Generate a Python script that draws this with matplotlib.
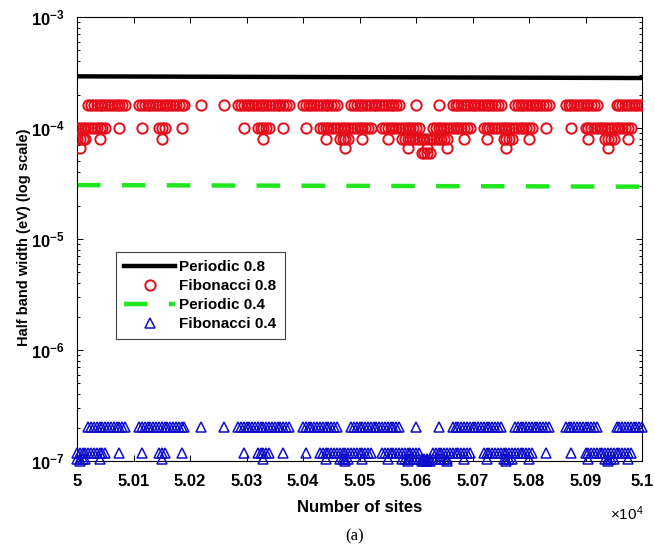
import numpy as np
import matplotlib
matplotlib.use("Agg")
import matplotlib.pyplot as plt
from matplotlib.ticker import FixedLocator, LogLocator, NullFormatter

plt.rcParams['font.family'] = ['Liberation Sans', 'DejaVu Sans']
plt.rcParams['mathtext.fontset'] = 'custom'
plt.rcParams['mathtext.rm'] = 'Liberation Sans'
plt.rcParams['mathtext.bf'] = 'Liberation Sans:bold'
plt.rcParams['mathtext.it'] = 'Liberation Sans:italic'

# ---------------- data ----------------
x_start = 50000
x_end = 51000
x_ticks = [50000, 50100, 50200, 50300, 50400, 50500, 50600, 50700, 50800, 50900, 51000]
x_tick_labels = ['5', '5.01', '5.02', '5.03', '5.04', '5.05', '5.06', '5.07', '5.08', '5.09', '5.1']
y_ticks = [1e-7, 1e-6, 1e-5, 1e-4, 1e-3]
y_tick_labels = [r'$\mathbf{10^{-7}}$', r'$\mathbf{10^{-6}}$', r'$\mathbf{10^{-5}}$',
                 r'$\mathbf{10^{-4}}$', r'$\mathbf{10^{-3}}$']

periodic_x = [50000, 51000]
periodic_08 = [2.92e-4, 2.82e-4]
periodic_04 = [3.06e-5, 2.96e-5]

# Fibonacci chains: runs of lattice sizes (offset from 50000, every 5 sites)
# that share the same half band width level
site_step = 5
level1_runs = [(20, 85), (110, 190), (220, 220), (260, 260), (285, 375), (400, 460),
               (485, 570), (600, 600), (640, 640), (665, 750), (775, 835), (865, 920),
               (955, 1000)]
level2_runs = [(0, 50), (75, 75), (115, 115), (145, 155), (185, 185), (295, 295),
               (320, 340), (365, 365), (405, 405), (430, 520), (540, 605), (630, 695),
               (720, 805), (830, 830), (875, 875), (900, 980)]
level3_runs = [(0, 15), (40, 40), (150, 150), (330, 330), (440, 440), (465, 480),
               (505, 505), (550, 550), (575, 655), (685, 685), (725, 725), (755, 770),
               (800, 800), (905, 905), (935, 950), (975, 975)]
level4_runs = [(5, 5), (475, 475), (585, 585), (620, 620), (655, 655), (760, 760), (940, 940)]
level5_runs = [(610, 625)]

fib08_levels = [1.60e-4, 1.00e-4, 7.9e-5, 6.6e-5, 5.9e-5]
fib04_levels = [2.02e-7, 1.18e-7, 1.05e-7, 1.01e-7, 1.00e-7]


def runs_to_sites(runs):
    pts = []
    for a, b in runs:
        pts.extend(range(a, b + 1, site_step))
    return np.array(pts) + x_start


level_runs = [level1_runs, level2_runs, level3_runs, level4_runs, level5_runs]
fib_x = np.concatenate([runs_to_sites(r) for r in level_runs])
fib08_y = np.concatenate([np.full(len(runs_to_sites(r)), v) for r, v in zip(level_runs, fib08_levels)])
fib04_y = np.concatenate([np.full(len(runs_to_sites(r)), v) for r, v in zip(level_runs, fib04_levels)])

# ---------------- figure ----------------
fig = plt.figure(figsize=(6.55, 5.49), dpi=100)
ax = fig.add_axes([77 / 655, 1 - 461 / 549, 565 / 655, 444 / 549])

ax.plot(periodic_x, periodic_08, color='black', lw=3.2, label='Periodic 0.8', zorder=2)
ax.plot(fib_x, fib08_y, ls='none', marker='o', ms=7.4, mfc='none', mec=(0.9, 0.05, 0.1),
        mew=1.4, label='Fibonacci 0.8', zorder=3)
ax.plot(periodic_x, periodic_04, color=(0.12, 0.9, 0.12), lw=3.2, dashes=(5.3, 4.8),
        label='Periodic 0.4', zorder=2)
ax.plot(fib_x, fib04_y, ls='none', marker='^', ms=7.0, mfc='none', mec=(0.05, 0.05, 0.8),
        mew=1.1, label='Fibonacci 0.4', zorder=3, clip_on=False)

ax.set_yscale('log')
ax.set_xlim(x_start, x_end)
ax.set_ylim(1e-7, 1e-3)

ax.xaxis.set_major_locator(FixedLocator(x_ticks))
ax.set_xticklabels(x_tick_labels, fontsize=12, fontweight='bold')
ax.yaxis.set_major_locator(FixedLocator(y_ticks))
ax.set_yticklabels(y_tick_labels, fontsize=12)
ax.yaxis.set_minor_locator(LogLocator(base=10, subs=np.arange(2, 10)))
ax.yaxis.set_minor_formatter(NullFormatter())

ax.tick_params(which='both', direction='in', top=True, right=True, width=0.7)
ax.tick_params(which='major', length=4.5)
ax.tick_params(which='minor', length=2.5)
ax.tick_params(axis='x', pad=9)
ax.tick_params(axis='y', pad=9)
for s in ax.spines.values():
    s.set_linewidth(0.8)

fig.text(24 / 655, 1 - 237 / 549, 'Half band width (eV) (log scale)', rotation=90,
         ha='center', va='center', fontsize=10.5, fontweight='bold')
fig.text(360 / 655, 1 - 507 / 549, 'Number of sites', ha='center', va='center',
         fontsize=12, fontweight='bold')
fig.text(644 / 655, 1 - 514 / 549, r'$\times10^{4}$', ha='right', va='center', fontsize=11)
fig.text(355 / 655, 1 - 536 / 549, '(a)', ha='center', va='center', fontsize=12,
         family='Liberation Serif')

leg = ax.legend(loc='upper left', bbox_to_anchor=((116 - 77) / 565, (461 - 252) / 444),
                borderaxespad=0, fancybox=False, edgecolor='#444444', framealpha=1,
                handlelength=3.3, prop={'weight': 'bold', 'size': 11},
                labelspacing=0.32, handletextpad=0.3, borderpad=0.55)
leg.get_frame().set_linewidth(0.8)

fig.savefig('out.png', dpi=100)
